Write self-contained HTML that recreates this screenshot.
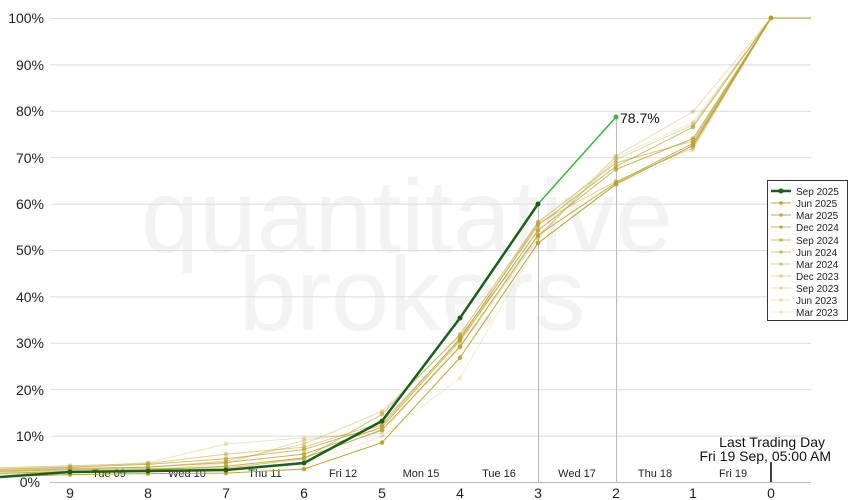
<!DOCTYPE html>
<html><head><meta charset="utf-8"><style>
html,body{margin:0;padding:0;background:#fff;}
svg{display:block;font-family:"Liberation Sans",sans-serif;}
</style></head><body>
<svg id="s" width="850" height="500" viewBox="0 0 850 500" xmlns="http://www.w3.org/2000/svg">
<rect width="850" height="500" fill="#fff"/>
<g font-size="104" fill="#f3f3f3" text-anchor="middle">
<text x="407" y="252">quantitative</text>
<text x="412" y="330">brokers</text>
</g>
<g stroke="#dcdcdc" stroke-width="1">
<line x1="50" x2="811" y1="18.5" y2="18.5"/><line x1="50" x2="811" y1="64.9" y2="64.9"/>
<line x1="50" x2="811" y1="111.3" y2="111.3"/><line x1="50" x2="811" y1="157.7" y2="157.7"/>
<line x1="50" x2="811" y1="204.1" y2="204.1"/><line x1="50" x2="811" y1="250.5" y2="250.5"/>
<line x1="50" x2="811" y1="296.9" y2="296.9"/><line x1="50" x2="811" y1="343.3" y2="343.3"/>
<line x1="50" x2="811" y1="389.7" y2="389.7"/><line x1="50" x2="811" y1="436.1" y2="436.1"/>
</g>
<line x1="50" x2="811" y1="482.5" y2="482.5" stroke="#bbb"/>
<line x1="538.5" x2="538.5" y1="204" y2="482" stroke="#bbb"/>
<line x1="616.5" x2="616.5" y1="117" y2="482" stroke="#bbb"/>
<line x1="771" x2="771" y1="462" y2="482" stroke="#000" stroke-width="1.5"/>
<g font-size="14" fill="#222" text-anchor="end">
<text x="44" y="23">100%</text><text x="44" y="70">90%</text><text x="44" y="116">80%</text>
<text x="44" y="163">70%</text><text x="44" y="209">60%</text><text x="44" y="255">50%</text>
<text x="44" y="302">40%</text><text x="44" y="348">30%</text><text x="44" y="395">20%</text>
<text x="44" y="441">10%</text><text x="40" y="487">0%</text>
</g>
<g font-size="14" fill="#222" text-anchor="middle">
<text x="70" y="498">9</text><text x="148" y="498">8</text><text x="226" y="498">7</text>
<text x="304" y="498">6</text><text x="382" y="498">5</text><text x="460" y="498">4</text>
<text x="538" y="498">3</text><text x="616" y="498">2</text><text x="693" y="498">1</text>
<text x="771" y="498">0</text>
</g>
<g font-size="11" fill="#222" text-anchor="middle">
<text x="109" y="477">Tue 09</text><text x="187" y="477">Wed 10</text><text x="265" y="477">Thu 11</text>
<text x="343" y="477">Fri 12</text><text x="421" y="477">Mon 15</text><text x="499" y="477">Tue 16</text>
<text x="577" y="477">Wed 17</text><text x="655" y="477">Thu 18</text><text x="733" y="477">Fri 19</text>
</g>
<g font-size="14" fill="#111" text-anchor="end">
<text x="825" y="447">Last Trading Day</text>
<text x="831" y="461">Fri 19 Sep, 05:00 AM</text>
</g>
<g id="series"></g>
<polyline points="616,117 538,204" fill="none" stroke="#3cb43c" stroke-width="1.5"/>
<circle cx="616" cy="117" r="2.5" fill="#3cb43c"/>
<text x="620" y="123" font-size="14" fill="#111">78.7%</text>
<polyline points="0,477 70,472 148,471 226,470 304,463 382,421 460,318 538,204" fill="none" stroke="#1d5e1d" stroke-width="2.5"/>
<g fill="#1d5e1d"><circle cx="70" cy="472" r="2.5"/><circle cx="148" cy="471" r="2.5"/><circle cx="226" cy="470" r="2.5"/><circle cx="304" cy="463" r="2.5"/><circle cx="382" cy="421" r="2.5"/><circle cx="460" cy="318" r="2.5"/><circle cx="538" cy="204" r="2.5"/></g>
<g>
<rect x="767.5" y="180.5" width="80" height="140" fill="#fff" stroke="#333"/>
<g font-size="10" fill="#222">
<text x="796" y="195">Sep 2025</text><text x="796" y="207">Jun 2025</text><text x="796" y="219">Mar 2025</text>
<text x="796" y="231">Dec 2024</text><text x="796" y="244">Sep 2024</text><text x="796" y="256">Jun 2024</text>
<text x="796" y="268">Mar 2024</text><text x="796" y="280">Dec 2023</text><text x="796" y="292">Sep 2023</text>
<text x="796" y="304">Jun 2023</text><text x="796" y="316">Mar 2023</text>
</g>
<g id="leg"></g>
</g>
</svg>
<script>
var xs=[70,148,226,304,382,460,538,616,693,771];
var data=[
[1.6,1.8,1.9,2.8,8.5,26.8,51.5,64.2,72.5,100],
[2.3,2.6,3.4,5.2,11.2,29.2,53.2,64.5,73.0,100],
[2.8,3.2,4.2,6.0,11.8,30.5,54.2,67.4,74.0,100],
[3.2,3.8,5.0,7.0,12.3,31.0,55.3,68.0,76.5,100],
[2.6,2.9,3.0,5.0,14.6,31.8,56.0,68.8,73.5,100],
[3.5,4.0,6.0,7.5,12.8,30.8,55.8,64.8,72.0,100],
[3.0,3.2,4.5,8.2,15.2,31.5,53.0,69.5,77.0,100],
[2.1,2.6,4.0,9.0,11.2,29.0,52.5,70.3,79.8,100],
[3.1,4.2,8.2,9.5,10.5,30.0,54.5,70.0,77.5,100],
[2.4,2.8,3.2,4.0,9.8,22.4,51.5,64.0,71.5,100]];
var op=[0.95,0.85,0.8,0.7,0.6,0.5,0.4,0.32,0.25,0.18];
var NS="http://www.w3.org/2000/svg",g=document.getElementById("series"),lg=document.getElementById("leg");
function Y(v){return 482-v*4.64;}
for(var i=data.length-1;i>=0;i--){
 var d=data[i],pts="0,"+(Y(d[0])+2);
 for(var j=0;j<10;j++)pts+=" "+xs[j]+","+Y(d[j]);
 pts+=" 811,"+Y(100);
 var pl=document.createElementNS(NS,"polyline");
 pl.setAttribute("points",pts);pl.setAttribute("fill","none");pl.setAttribute("stroke","#b8a030");
 pl.setAttribute("stroke-opacity",op[i]);pl.setAttribute("stroke-width","1");g.appendChild(pl);
 for(var j=0;j<10;j++){var c=document.createElementNS(NS,"circle");c.setAttribute("cx",xs[j]);c.setAttribute("cy",Y(d[j]));c.setAttribute("r","2.3");c.setAttribute("fill","#b8a030");c.setAttribute("fill-opacity",op[i]);g.appendChild(c);}
}
var ly=[191,203,215,227,240,252,264,276,288,300,312];
for(var k=0;k<11;k++){
 var l=document.createElementNS(NS,"line");l.setAttribute("x1",771);l.setAttribute("x2",791);l.setAttribute("y1",ly[k]);l.setAttribute("y2",ly[k]);
 var c=document.createElementNS(NS,"circle");c.setAttribute("cx",781);c.setAttribute("cy",ly[k]);c.setAttribute("r",k?1.8:2.5);
 if(k==0){l.setAttribute("stroke","#1d5e1d");l.setAttribute("stroke-width","2.5");c.setAttribute("fill","#1d5e1d");}
 else{l.setAttribute("stroke","#b8a030");l.setAttribute("stroke-opacity",op[k-1]);c.setAttribute("fill","#b8a030");c.setAttribute("fill-opacity",op[k-1]);}
 lg.appendChild(l);lg.appendChild(c);
}
</script>
</body></html>
